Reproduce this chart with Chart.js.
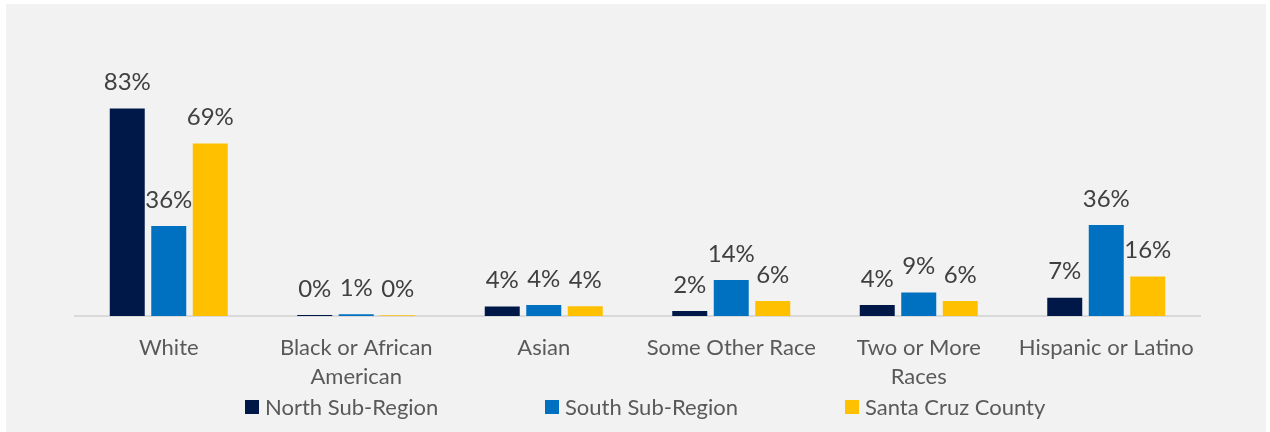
<!DOCTYPE html>
<html>
<head>
<meta charset="utf-8">
<script src="https://cdn.jsdelivr.net/npm/chart.js@4"></script>
<style>
  html, body { margin: 0; padding: 0; background: #ffffff; }
  #wrap { position: absolute; left: 6px; top: 4px; width: 1260px; height: 428px; background: #f2f2f2; }
</style>
</head>
<body>
<div id="wrap"><canvas id="myChart" width="1260" height="428"></canvas></div>
<script>
// categories (multi-line ones split as in the original)
var categories = ['White', ['Black or African', 'American'], 'Asian', 'Some Other Race', ['Two or More', 'Races'], 'Hispanic or Latino']
var seriesNames = ['North Sub-Region', 'South Sub-Region', 'Santa Cruz County']
var north = [83, 0.4, 3.8, 2, 4.4, 7.3]
var south = [36, 0.7, 4.4, 14.4, 9.4, 36.4]
var county = [69, 0.3, 3.9, 6, 6, 15.8]
var colors = ['#001848', '#0070c0', '#ffc000']

var fontFamily = 'Lato, "Open Sans", sans-serif'

// value labels above each bar
var valueLabels = {
    id: 'valueLabels',
    afterDatasetsDraw: function(chart) {
        var c = chart.ctx
        c.save()
        c.font = '24px ' + fontFamily
        c.fillStyle = '#404040'
        c.textAlign = 'center'
        c.textBaseline = 'middle'
        chart.data.datasets.forEach(function(ds, i) {
            chart.getDatasetMeta(i).data.forEach(function(bar, j) {
                c.fillText(Math.round(ds.data[j]) + '%', bar.x, bar.y - 26)
            })
        })
        c.restore()
    }
}

// legend drawn with equal spacing like the original
var bottomLegend = {
    id: 'bottomLegend',
    afterDraw: function(chart) {
        var c = chart.ctx
        c.save()
        c.font = '22px ' + fontFamily
        c.textBaseline = 'middle'
        chart.data.datasets.forEach(function(ds, i) {
            var x = 239 + i * 300
            var y = 403
            c.fillStyle = ds.backgroundColor
            c.fillRect(x, y - 7, 14, 14)
            c.fillStyle = '#595959'
            c.fillText(ds.label, x + 20, y + 1)
        })
        c.restore()
    }
}

var ctx = document.getElementById('myChart').getContext('2d')
var chart = new Chart(ctx, {
    type: 'bar',
    data: {
        labels: categories,
        datasets: [
            { label: seriesNames[0], data: north, backgroundColor: colors[0] },
            { label: seriesNames[1], data: south, backgroundColor: colors[1] },
            { label: seriesNames[2], data: county, backgroundColor: colors[2] }
        ]
    },
    options: {
        responsive: false,
        animation: false,
        layout: { padding: { left: 69, right: 66, top: 62, bottom: 0 } },
        datasets: { bar: { categoryPercentage: 0.664, barPercentage: 0.843 } },
        plugins: {
            legend: { display: false },
            tooltip: { enabled: false }
        },
        scales: {
            x: {
                grid: { display: false, drawTicks: false },
                border: { display: true, color: '#d9d9d9', width: 2 },
                ticks: {
                    color: '#595959',
                    padding: 17,
                    maxRotation: 0,
                    autoSkip: false,
                    font: { family: fontFamily, size: 22, lineHeight: 1.32 }
                },
                afterFit: function(scale) { scale.height = 116 }
            },
            y: {
                display: false,
                min: 0,
                max: 100
            }
        }
    },
    plugins: [valueLabels, bottomLegend]
})
</script>
</body>
</html>
